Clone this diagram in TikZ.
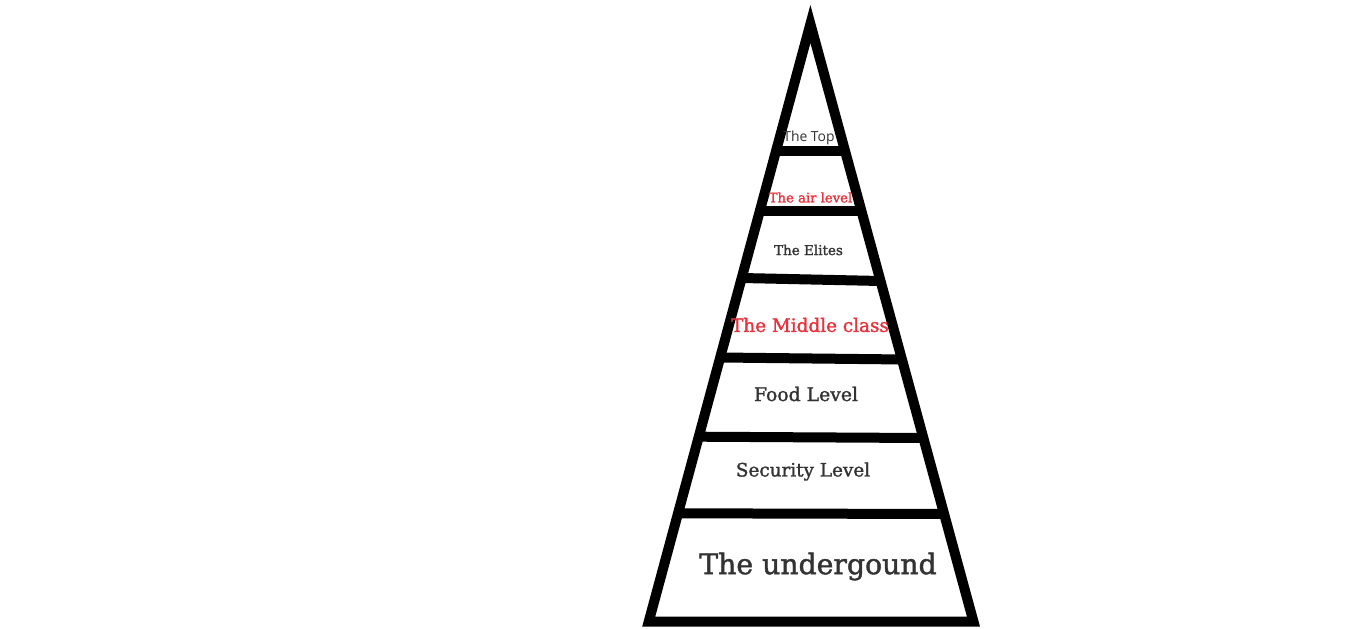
\documentclass[tikz,border=0pt]{standalone}
\usepackage{fontspec}
\setmainfont{DejaVu Serif}
\newfontfamily\slab{DejaVu Serif}[FakeBold=1.5]
\newfontfamily\topfont{Open Sans}
\usetikzlibrary{calc}
\definecolor{txtgray}{HTML}{333333}
\definecolor{txtred}{HTML}{E8323C}
\begin{document}
\begin{tikzpicture}[x=1pt,y=-1pt,
  outline/.style={line width=10pt,draw=black,line join=miter,miter limit=20},
  bar/.style={line width=10pt,draw=black,line cap=butt},
  lbl/.style={inner sep=0pt,anchor=center,text=txtgray},
  redlbl/.style={inner sep=0pt,anchor=center,text=txtred}]
\useasboundingbox[fill=white] (0,0) rectangle (1350,629);
\coordinate (apex) at (810.4,24);
\coordinate (bl) at (648.7,621.7);
\coordinate (br) at (973.5,621.7);
% helper: point on left/right edge at image height y
\newcommand{\edgeL}[2]{\coordinate (#1) at ($(apex)!{(#2-24)/597.7}!(bl)$);}
\newcommand{\edgeR}[2]{\coordinate (#1) at ($(apex)!{(#2-24)/597.7}!(br)$);}
\edgeL{l1}{151}\edgeR{r1}{151}
\edgeL{l2}{211}\edgeR{r2}{211}
\edgeL{l3}{278}\edgeR{r3}{281}
\edgeL{l4}{357.5}\edgeR{r4}{359.5}
\edgeL{l5}{436.7}\edgeR{r5}{438}
\edgeL{l6}{513.3}\edgeR{r6}{514}
\draw[bar] (l1) -- (r1);
\draw[bar] (l2) -- (r2);
\draw[bar] (l3) -- (r3);
\draw[bar] (l4) -- ($(r4)+(3,0)$);
\draw[bar] (l5) -- (r5);
\draw[bar] (l6) -- (r6);
\draw[outline] (apex) -- (bl) -- (br) -- cycle;
\node[lbl,font=\topfont\fontsize{13.9}{15}\selectfont] (top) at (809,137.5) {The Top};
\node[redlbl,font=\slab\fontsize{13.2}{15}\selectfont] (air) at (810.5,197.5) {The air level};
\node[lbl,font=\slab\fontsize{13.5}{15}\selectfont] (elites) at (808.5,250) {The Elites};
\node[redlbl,font=\slab\fontsize{18.4}{20}\selectfont] (middle) at (810,325) {The Middle class};
\node[lbl,font=\slab\fontsize{18.8}{20}\selectfont] (food) at (806,394) {Food Level};
\node[lbl,font=\slab\fontsize{18.4}{20}\selectfont] (security) at (803,471.5) {Security Level};
\node[lbl,font=\slab\fontsize{28.3}{30}\selectfont] (under) at (818,566.5) {The undergound};
\end{tikzpicture}
\end{document}
